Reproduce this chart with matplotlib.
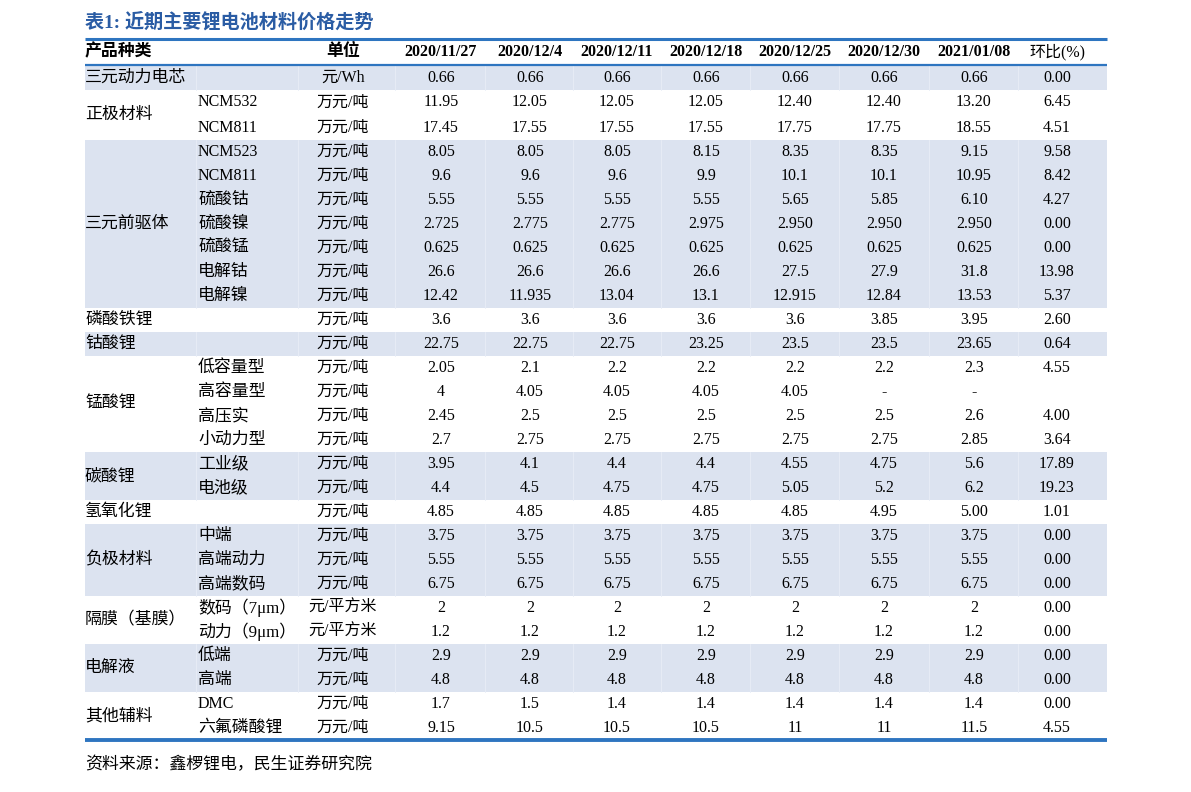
import matplotlib
matplotlib.use("Agg")
import matplotlib.pyplot as plt
from matplotlib.patches import Rectangle

# ---------------- data ----------------
title = "表1: 近期主要锂电池材料价格走势"
source = "资料来源：鑫椤锂电，民生证券研究院"
header = ["产品种类", "单位", "2020/11/27", "2020/12/4", "2020/12/11", "2020/12/18",
          "2020/12/25", "2020/12/30", "2021/01/08", "环比(%)"]

groups = ["三元动力电芯", "正极材料", "三元前驱体", "磷酸铁锂", "钴酸锂", "锰酸锂",
          "碳酸锂", "氢氧化锂", "负极材料", "隔膜（基膜）", "电解液", "其他辅料"]
group_sizes = [1, 2, 7, 1, 1, 4, 2, 1, 3, 2, 2, 2]

subcats = ["", "NCM532", "NCM811", "NCM523", "NCM811", "硫酸钴", "硫酸镍", "硫酸锰",
           "电解钴", "电解镍", "", "", "低容量型", "高容量型", "高压实", "小动力型",
           "工业级", "电池级", "", "中端", "高端动力", "高端数码", "数码（7μm）",
           "动力（9μm）", "低端", "高端", "DMC", "六氟磷酸锂"]

units = ["元/Wh"] + ["万元/吨"] * 21 + ["元/平方米", "元/平方米"] + ["万元/吨"] * 4

d_1127 = ["0.66", "11.95", "17.45", "8.05", "9.6", "5.55", "2.725", "0.625", "26.6", "12.42",
          "3.6", "22.75", "2.05", "4", "2.45", "2.7", "3.95", "4.4", "4.85", "3.75", "5.55",
          "6.75", "2", "1.2", "2.9", "4.8", "1.7", "9.15"]
d_1204 = ["0.66", "12.05", "17.55", "8.05", "9.6", "5.55", "2.775", "0.625", "26.6", "11.935",
          "3.6", "22.75", "2.1", "4.05", "2.5", "2.75", "4.1", "4.5", "4.85", "3.75", "5.55",
          "6.75", "2", "1.2", "2.9", "4.8", "1.5", "10.5"]
d_1211 = ["0.66", "12.05", "17.55", "8.05", "9.6", "5.55", "2.775", "0.625", "26.6", "13.04",
          "3.6", "22.75", "2.2", "4.05", "2.5", "2.75", "4.4", "4.75", "4.85", "3.75", "5.55",
          "6.75", "2", "1.2", "2.9", "4.8", "1.4", "10.5"]
d_1218 = ["0.66", "12.05", "17.55", "8.15", "9.9", "5.55", "2.975", "0.625", "26.6", "13.1",
          "3.6", "23.25", "2.2", "4.05", "2.5", "2.75", "4.4", "4.75", "4.85", "3.75", "5.55",
          "6.75", "2", "1.2", "2.9", "4.8", "1.4", "10.5"]
d_1225 = ["0.66", "12.40", "17.75", "8.35", "10.1", "5.65", "2.950", "0.625", "27.5", "12.915",
          "3.6", "23.5", "2.2", "4.05", "2.5", "2.75", "4.55", "5.05", "4.85", "3.75", "5.55",
          "6.75", "2", "1.2", "2.9", "4.8", "1.4", "11"]
d_1230 = ["0.66", "12.40", "17.75", "8.35", "10.1", "5.85", "2.950", "0.625", "27.9", "12.84",
          "3.85", "23.5", "2.2", "-", "2.5", "2.75", "4.75", "5.2", "4.95", "3.75", "5.55",
          "6.75", "2", "1.2", "2.9", "4.8", "1.4", "11"]
d_0108 = ["0.66", "13.20", "18.55", "9.15", "10.95", "6.10", "2.950", "0.625", "31.8", "13.53",
          "3.95", "23.65", "2.3", "-", "2.6", "2.85", "5.6", "6.2", "5.00", "3.75", "5.55",
          "6.75", "2", "1.2", "2.9", "4.8", "1.4", "11.5"]
change = ["0.00", "6.45", "4.51", "9.58", "8.42", "4.27", "0.00", "0.00", "13.98", "5.37",
          "2.60", "0.64", "4.55", "", "4.00", "3.64", "17.89", "19.23", "1.01", "0.00", "0.00",
          "0.00", "0.00", "0.00", "0.00", "0.00", "0.00", "4.55"]

date_cols = [d_1127, d_1204, d_1211, d_1218, d_1225, d_1230, d_0108]

# ---------------- layout ----------------
W, H = 1191, 792
fig = plt.figure(figsize=(W / 100, H / 100), dpi=100)
ax = fig.add_axes([0, 0, 1, 1])
ax.set_xlim(0, W)
ax.set_ylim(H, 0)
ax.axis("off")

FAM = ["Liberation Serif", "Noto Sans CJK SC"]
FS = 11.5
FS_CN = 12.2
BLUE_LINE = "#2E75C0"
TITLE_BLUE = "#2A5CA4"
SHADE = "#DCE3F0"
SEP = "#E8EDF6"

x_left, x_right = 85, 1107
x_cat = 85
x_sub = 198
x_unit = 343
x_dates = [441, 530, 617, 706, 795, 884, 974]
x_chg = 1057
separators = [196, 298, 395, 485, 573, 661, 750, 839, 929, 1018]

y_top_line = 39
y_head_line = 65
n_rows = len(subcats)
row_tops = [65, 90, 115]
while len(row_tops) < n_rows + 1:
    row_tops.append(140 + 24 * (len(row_tops) - 3))
row_c = [(row_tops[i] + row_tops[i + 1]) / 2 for i in range(n_rows)]


def is_ascii(s):
    return all(ord(c) < 128 for c in s)


# shading of groups
start = 0
for gi, (g, n) in enumerate(zip(groups, group_sizes)):
    top, bot = row_tops[start], row_tops[start + n]
    if gi % 2 == 0:
        ax.add_patch(Rectangle((x_left, top), x_right - x_left, bot - top,
                               facecolor=SHADE, edgecolor="none", zorder=0))
        for sx in separators:
            ax.plot([sx, sx], [top, bot], color=SEP, lw=0.6, zorder=1)
    ax.text(x_cat, (top + bot) / 2, g, family=FAM, fontsize=FS_CN, ha="left", va="center",
            color="black")
    start += n

# lines
ax.plot([x_left, x_right], [y_top_line, y_top_line], color=BLUE_LINE, lw=2.2, solid_capstyle="butt")
ax.plot([x_left, x_right], [y_head_line, y_head_line], color=BLUE_LINE, lw=1.6, solid_capstyle="butt")
ax.plot([x_left, x_right], [row_tops[-1], row_tops[-1]], color=BLUE_LINE, lw=2.8, solid_capstyle="butt")

# title & source
ax.text(x_left, 22, title, family=FAM, fontsize=13.8, fontweight="bold", color=TITLE_BLUE,
        ha="left", va="center")
ax.text(x_left, 765, source, family=FAM, fontsize=FS_CN, ha="left", va="center", color="black")

# header
yh = (y_top_line + y_head_line) / 2
ax.text(x_cat, yh, header[0], family=FAM, fontsize=FS_CN, fontweight="bold", ha="left", va="center")
ax.text(x_unit, yh, header[1], family=FAM, fontsize=FS_CN, fontweight="bold", ha="center", va="center")
for x, lab in zip(x_dates, header[2:9]):
    ax.text(x, yh, lab, family=FAM, fontsize=FS, fontweight="bold", ha="center", va="center")
ax.text(x_chg, yh, header[9], family=FAM, fontsize=FS, ha="center", va="center")

# body
for i in range(n_rows):
    y = row_c[i]
    if subcats[i]:
        fs = FS if is_ascii(subcats[i]) else FS_CN
        ax.text(x_sub, y, subcats[i], family=FAM, fontsize=fs, ha="left", va="center")
    ax.text(x_unit, y, units[i], family=FAM, fontsize=FS, ha="center", va="center")
    for x, col in zip(x_dates, date_cols):
        ax.text(x, y, col[i], family=FAM, fontsize=FS, ha="center", va="center")
    if change[i]:
        ax.text(x_chg, y, change[i], family=FAM, fontsize=FS, ha="center", va="center")

fig.savefig("out.png", dpi=100)
